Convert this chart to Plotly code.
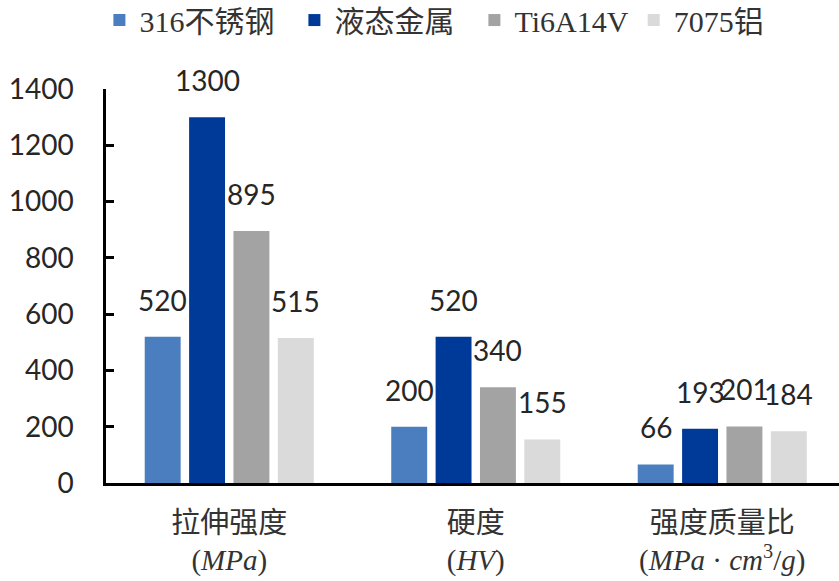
import plotly.graph_objects as go

categories = ["拉伸强度<br>(<i>MPa</i>)", "硬度<br>(<i>HV</i>)",
              "强度质量比<br>(<i>MPa</i> · <i>cm</i><sup>3</sup>/<i>g</i>)"]
series_names = ["316不锈钢", "液态金属", "Ti6A14V", "7075铝"]
series_values = [
    [520, 200, 66],
    [1300, 520, 193],
    [895, 340, 201],
    [515, 155, 184],
]
series_colors = ["#4A7EBF", "#003A99", "#A3A3A3", "#DADADA"]
y_ticks = [0, 200, 400, 600, 800, 1000, 1200, 1400]

BARGAP = 0.28
BARGROUPGAP = 0.19
legend_pad = ["\u00a0\u00a0", "\u00a0\u00a0", "", ""]

fig = go.Figure()
for name, vals, col, pad in zip(series_names, series_values, series_colors, legend_pad):
    fig.add_trace(go.Bar(
        name=name + pad, x=list(range(len(categories))), y=vals,
        marker=dict(color=col, line=dict(width=0)),
    ))

# value labels above each bar
n = len(series_names)
slot = (1 - BARGAP) / n
annotations = []
for j, vals in enumerate(series_values):
    off = -(1 - BARGAP) / 2 + slot * (j + 0.5)
    for i, v in enumerate(vals):
        annotations.append(dict(
            x=i + off, y=v, xref="x", yref="y", text=str(v), showarrow=False,
            yanchor="bottom", yshift=18,
            font=dict(family="Lato, Liberation Sans, sans-serif", size=28, color="#262626"),
        ))

fig.update_layout(
    width=839, height=581,
    margin=dict(l=106, r=0, t=89, b=98, autoexpand=False),
    paper_bgcolor="white", plot_bgcolor="white",
    barmode="group", bargap=BARGAP, bargroupgap=BARGROUPGAP,
    annotations=annotations,
    showlegend=True,
    legend=dict(
        orientation="h", x=-0.009, y=1.175, xanchor="left", yanchor="middle",
        font=dict(family="Liberation Serif, Noto Sans CJK SC, serif", size=30, color="#333333"),
        itemwidth=30, tracegroupgap=0,
    ),
    xaxis=dict(
        tickmode="array", tickvals=list(range(len(categories))), ticktext=categories,
        range=[-0.5, -0.5 + 733 / 246.5],
        showline=True, linecolor="black", linewidth=2.5,
        ticks="", showgrid=False, zeroline=False,
        tickfont=dict(family="Liberation Serif, Noto Sans CJK SC, serif", size=29, color="#333333"),
        ticklabelstandoff=12,
    ),
    yaxis=dict(
        range=[0, 1400], tickmode="array", tickvals=y_ticks,
        showline=True, linecolor="black", linewidth=2.5,
        ticks="inside", ticklen=8, tickwidth=2.5, tickcolor="black",
        showgrid=False, zeroline=False,
        tickfont=dict(family="Lato, Liberation Sans, sans-serif", size=28, color="#262626"),
        ticklabelstandoff=24,
    ),
)

fig.write_html("out.html")
